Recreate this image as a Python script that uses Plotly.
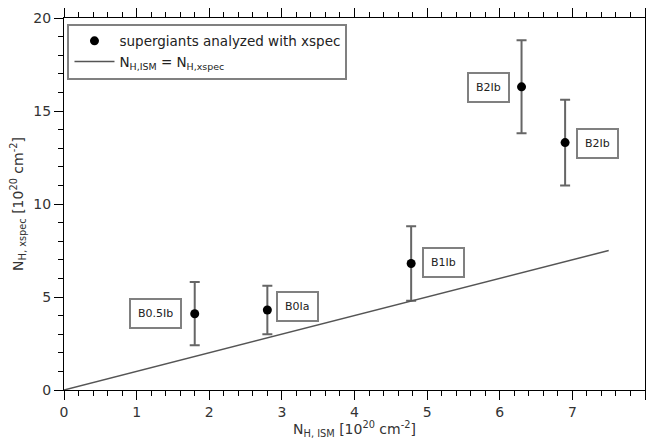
import plotly.graph_objects as go

# Data
star_x = [1.8, 2.8, 4.78, 6.3, 6.9]
star_y = [4.1, 4.3, 6.8, 16.3, 13.3]
star_err = [1.7, 1.3, 2.0, 2.5, 2.3]
labels = ["B0.5Ib", "B0Ia", "B1Ib", "B2Ib", "B2Ib"]
label_x = [1.26, 3.21, 5.23, 5.85, 7.35]
label_y = [4.1, 4.5, 6.83, 16.26, 13.24]
line_x = [0, 7.5]
line_y = [0, 7.5]

FONT = "DejaVu Sans"
GRAY = "#666666"
TXT = "#333333"

fig = go.Figure()
fig.add_trace(go.Scatter(
    x=star_x, y=star_y, mode="markers",
    name="supergiants analyzed with xspec",
    marker=dict(color="black", size=9),
    error_y=dict(type="data", array=star_err, color=GRAY, thickness=2, width=5),
))
fig.add_trace(go.Scatter(
    x=line_x, y=line_y, mode="lines",
    name="N<sub>H,ISM</sub> = N<sub>H,xspec</sub>",
    line=dict(color="#555555", width=1.5),
))

for lx, ly, t in zip(label_x, label_y, labels):
    fig.add_annotation(x=lx, y=ly, text=t, showarrow=False,
                       font=dict(family=FONT, size=11, color="#222222"),
                       bordercolor="#808080", borderwidth=2, borderpad=7,
                       bgcolor="#ffffff")

fig.update_layout(
    template="none",
    width=646, height=439,
    font=dict(family=FONT, size=14, color=TXT),
    margin=dict(l=64, r=1, t=18, b=49, autoexpand=False),
    paper_bgcolor="#ffffff", plot_bgcolor="#ffffff",
    showlegend=True,
    legend=dict(x=0.006, y=0.985, xanchor="left", yanchor="top",
                bordercolor="#808080", borderwidth=2, bgcolor="#ffffff",
                font=dict(family=FONT, size=13.5, color="#222222"),
                itemwidth=40, tracegroupgap=0),
    xaxis=dict(range=[0, 8], dtick=1, automargin=False,
               showline=True, linecolor="#000000", linewidth=1,
               mirror="allticks", ticks="outside", ticklen=9, tickcolor="#000000", tickwidth=1,
               showgrid=False, zeroline=False,
               minor=dict(dtick=0.2, ticks="outside", ticklen=5, tickcolor="#000000", tickwidth=1),
               tickfont=dict(family=FONT, size=14, color=TXT),
               title=dict(text="N<sub>H, ISM</sub> [10<sup>20</sup> cm<sup>-2</sup>]",
                          font=dict(family=FONT, size=14, color=TXT), standoff=3)),
    yaxis=dict(range=[0, 20], dtick=5, automargin=False,
               showline=True, linecolor="#000000", linewidth=1,
               mirror=True, ticks="outside", ticklen=9, tickcolor="#000000", tickwidth=1,
               showgrid=False, zeroline=False,
               minor=dict(dtick=1, ticks="outside", ticklen=5, tickcolor="#000000", tickwidth=1),
               tickfont=dict(family=FONT, size=14, color=TXT),
               title=dict(text="N<sub>H, xspec</sub> [10<sup>20</sup> cm<sup>-2</sup>]",
                          font=dict(family=FONT, size=14, color=TXT), standoff=6)),
)

fig.write_html("out.html")
